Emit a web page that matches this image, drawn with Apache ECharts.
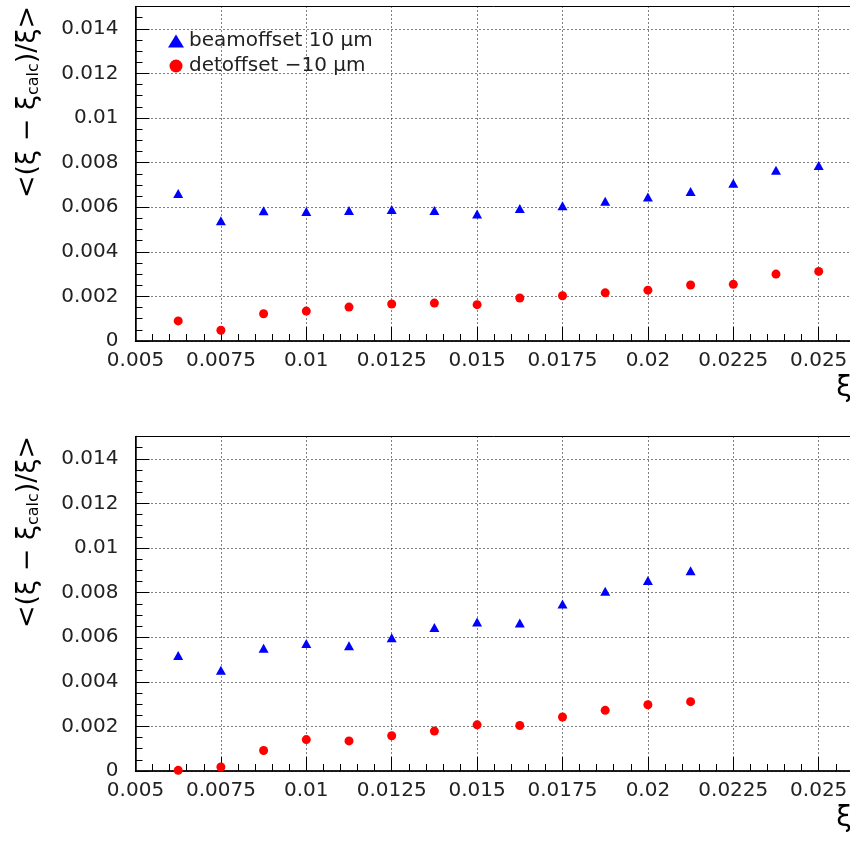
<!DOCTYPE html>
<html>
<head>
<meta charset="utf-8">
<script src="https://cdn.jsdelivr.net/npm/echarts@6/dist/echarts.min.js"></script>
<style>
html,body{margin:0;padding:0;background:#fff;}
#main{width:850px;height:844px;}
</style>
</head>
<body>
<div id="main"></div>
<script>
// ---- data ----
var xTop = [0.00625, 0.0075, 0.00875, 0.01, 0.01125, 0.0125, 0.01375, 0.015, 0.01625, 0.0175, 0.01875, 0.02, 0.02125, 0.0225, 0.02375, 0.025];
var beamTop = [0.00661, 0.00539, 0.00584, 0.00581, 0.00585, 0.00590, 0.00585, 0.00569, 0.00594, 0.00606, 0.00627, 0.00646, 0.00670, 0.00707, 0.00766, 0.00787];
var detTop = [0.00090, 0.00048, 0.00122, 0.00134, 0.00152, 0.00166, 0.00170, 0.00163, 0.00193, 0.00203, 0.00216, 0.00228, 0.00251, 0.00254, 0.00300, 0.00312];
var xBottom = [0.00625, 0.0075, 0.00875, 0.01, 0.01125, 0.0125, 0.01375, 0.015, 0.01625, 0.0175, 0.01875, 0.02, 0.02125];
var beamBottom = [0.00518, 0.00452, 0.00551, 0.00572, 0.00562, 0.00598, 0.00644, 0.00668, 0.00664, 0.00749, 0.00806, 0.00854, 0.00898];
var detBottom = [0.00003, 0.00018, 0.00092, 0.00141, 0.00135, 0.00158, 0.00179, 0.00207, 0.00204, 0.00242, 0.00272, 0.00297, 0.00311];
var seriesNames = ['beamoffset 10 μm', 'detoffset −10 μm'];
var xMin = 0.005, xMax = 0.0275, xStep = 0.0025, xMinor = 0.0005;
var yMin = 0, yMax = 0.015, yStep = 0.002, yMinor = 0.0005;
var yTitle = '<(ξ − ξ{s|calc})/ξ>';
var xTitle = 'ξ';

function pairs(xs, ys) { return xs.map(function (x, i) { return [x, ys[i]]; }); }

var FONT = 'DejaVu Sans';
var chart = echarts.init(document.getElementById('main'));

var pxPerX = 34160; // pixels per unit x
var gridLeft = 135.5;
var gridWidth = (xMax - xMin) * pxPerX;
var gridHeight = 334.5;
var grids = [
  { left: gridLeft, top: 6.5, width: gridWidth, height: gridHeight, show: true, borderColor: '#000', borderWidth: 1, backgroundColor: 'transparent', containLabel: false, outerBoundsMode: 'none' },
  { left: gridLeft, top: 436.5, width: gridWidth, height: gridHeight, show: true, borderColor: '#000', borderWidth: 1, backgroundColor: 'transparent', containLabel: false, outerBoundsMode: 'none' }
];

function fmt(v) {
  return String(+v.toFixed(6));
}

var xAxes = [], yAxes = [];
[0, 1].forEach(function (g) {
  xAxes.push({
    type: 'value', gridIndex: g, min: xMin, max: xMax, interval: xStep, position: 'bottom',
    axisLine: { show: true, onZero: false, lineStyle: { color: '#000', width: 1.5 } },
    axisTick: { show: true, inside: true, length: 14, lineStyle: { color: '#000', width: 1 } },
    axisLabel: { show: true, margin: 10, color: '#222', fontSize: 20, fontFamily: FONT, formatter: fmt, showMaxLabel: false },
    splitLine: { show: true, lineStyle: { color: '#000', width: 1, type: [1, 3] } }
  });
  xAxes.push({
    type: 'value', gridIndex: g, min: xMin, max: xMax, interval: xMinor, position: 'bottom',
    axisLine: { show: false, onZero: false },
    axisTick: { show: true, inside: true, length: 7, lineStyle: { color: '#000', width: 1 } },
    axisLabel: { show: false },
    splitLine: { show: false }
  });
  yAxes.push({
    type: 'value', gridIndex: g, min: yMin, max: yMax, interval: yStep, position: 'left',
    axisLine: { show: true, onZero: false, lineStyle: { color: '#000', width: 1.5 } },
    axisTick: { show: true, inside: true, length: 14, lineStyle: { color: '#000', width: 1 } },
    axisLabel: { show: true, margin: 17, color: '#222', fontSize: 20, fontFamily: FONT, showMaxLabel: false,
      formatter: function (v) { var r = Math.round(v / yStep); return Math.abs(v - r * yStep) < 1e-9 ? fmt(v) : ''; } },
    splitLine: { show: true, lineStyle: { color: '#000', width: 1, type: [1, 3] } }
  });
  yAxes.push({
    type: 'value', gridIndex: g, min: yMin, max: yMax, interval: yMinor, position: 'left',
    axisLine: { show: false, onZero: false },
    axisTick: { show: true, inside: true, length: 7, lineStyle: { color: '#000', width: 1 } },
    axisLabel: { show: false },
    splitLine: { show: false }
  });
});

function sc(name, g, data, symbol, size, color) {
  return {
    type: 'scatter', name: name, xAxisIndex: g * 2, yAxisIndex: g * 2, data: data,
    symbol: symbol, symbolSize: size, itemStyle: { color: color, opacity: 1 },
    emphasis: { disabled: true }, silent: true, z: 5
  };
}

var titleGraphics = [];
[0, 430].forEach(function (dy) {
  titleGraphics.push({
    type: 'text', x: 28, y: 102 + dy, rotation: Math.PI / 2, z: 100,
    style: {
      text: yTitle, fontSize: 27, fontFamily: FONT, fill: '#000', align: 'center', verticalAlign: 'middle',
      rich: { s: { fontSize: 16, fontFamily: FONT, fill: '#000', verticalAlign: 'bottom', padding: [10, 0, 0, 0] } }
    }
  });
  titleGraphics.push({
    type: 'text', x: 844, y: 389 + dy, z: 100,
    style: { text: xTitle, fontSize: 28, fontFamily: FONT, fill: '#000', align: 'center', verticalAlign: 'middle' }
  });
});

chart.setOption({
  animation: false,
  backgroundColor: '#fff',
  grid: grids,
  xAxis: xAxes,
  yAxis: yAxes,
  legend: {
    orient: 'vertical', left: 163, top: 26, itemWidth: 16, itemHeight: 13, itemGap: 5, itemTextGap: 18,
    selectedMode: false,
    textStyle: { fontSize: 20, fontFamily: FONT, color: '#222' },
    data: [{ name: seriesNames[0], icon: 'triangle' }, { name: seriesNames[1], icon: 'circle' }]
  },
  graphic: titleGraphics,
  series: [
    sc(seriesNames[0], 0, pairs(xTop, beamTop), 'triangle', [10, 9], '#0000ff'),
    sc(seriesNames[1], 0, pairs(xTop, detTop), 'circle', 9, '#ff0000'),
    sc(seriesNames[0], 1, pairs(xBottom, beamBottom), 'triangle', [10, 9], '#0000ff'),
    sc(seriesNames[1], 1, pairs(xBottom, detBottom), 'circle', 9, '#ff0000')
  ]
});
</script>
</body>
</html>
